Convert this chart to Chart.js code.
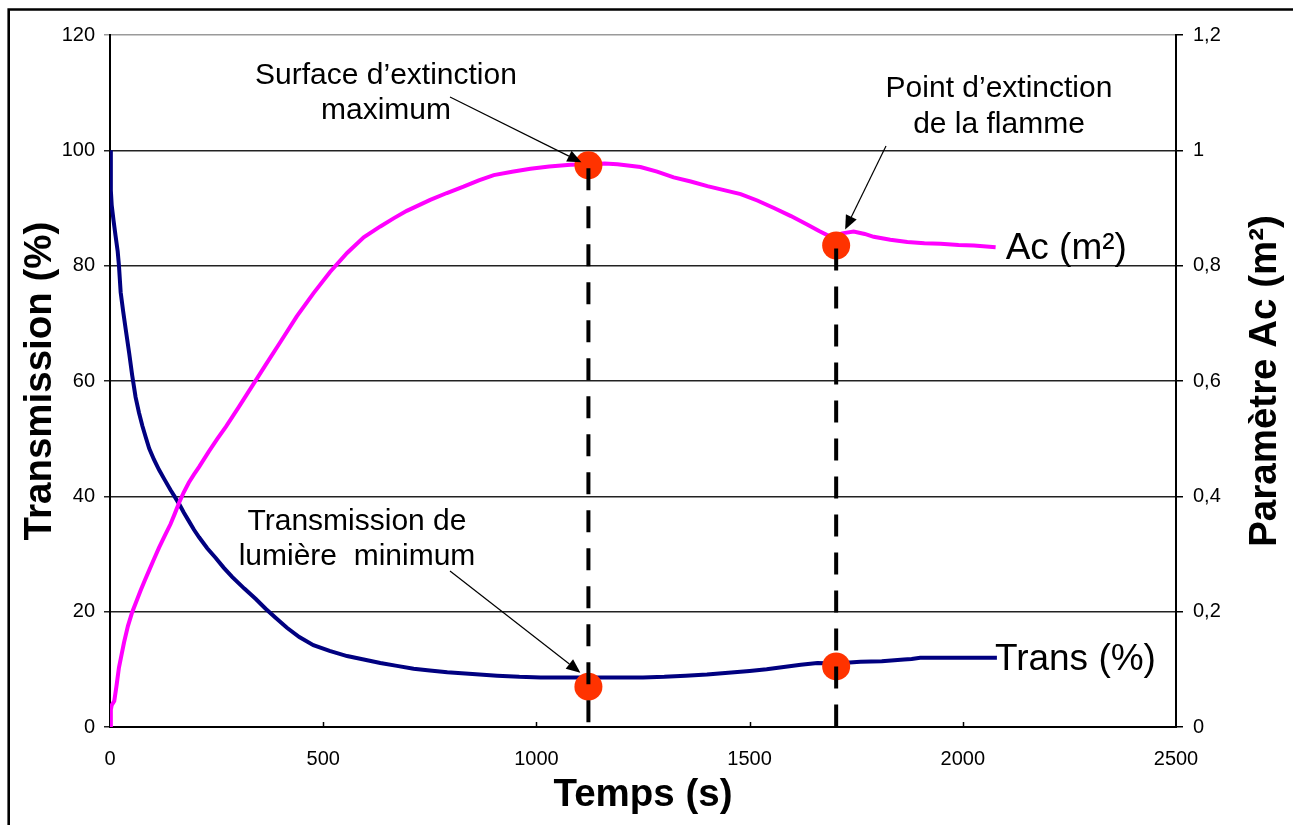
<!DOCTYPE html>
<html lang="fr">
<head>
<meta charset="UTF-8">
<title>Transmission et paramètre Ac</title>
<script src="https://cdn.jsdelivr.net/npm/chart.js"></script>
<style>
  body { margin: 0; background: #fff; }
  canvas { display: block; }
</style>
</head>
<body>
<canvas id="chart" width="1293" height="825"></canvas>
<script>
// transmission (%) vs temps (s)
const tTrans = [0, 2, 4, 8, 13, 18, 21, 25, 31, 37,
  45, 52, 60, 68, 76, 84, 92, 103, 115, 128,
  142, 152, 162, 173, 185, 197, 209, 228, 248, 267,
  287, 315, 342, 365, 389, 415, 444, 477, 515, 556,
  595, 634, 673, 712, 750, 791, 850, 908, 960, 1010,
  1060, 1103, 1150, 1200, 1250, 1300, 1350, 1400, 1450, 1500,
  1540, 1580, 1620, 1659, 1700, 1760, 1810, 1862, 1880, 1900,
  1950, 2000, 2040, 2080];
const trans = [100, 93, 90.5, 88, 85.2, 82.5, 80, 75.4, 72, 68.9,
  64.8, 61, 57.2, 54.5, 52.2, 50.2, 48.3, 46.4, 44.6, 42.9,
  41.1, 39.9, 38.7, 37.2, 35.7, 34.2, 32.9, 31.0, 29.3, 27.6,
  26, 24, 22.2, 20.5, 18.9, 17.2, 15.6, 14.2, 13.2, 12.3,
  11.7, 11.1, 10.6, 10.1, 9.8, 9.5, 9.2, 8.9, 8.7, 8.6,
  8.6, 8.6, 8.6, 8.6, 8.6, 8.7, 8.9, 9.1, 9.4, 9.7,
  10.0, 10.4, 10.8, 11.1, 11.0, 11.3, 11.4, 11.7, 11.8, 12.0,
  12.0, 12.0, 12.0, 12.0];

// parametre Ac (m²) vs temps (s)
const tAc = [0, 2, 4, 10, 15, 21, 27, 33, 42, 52,
  62, 72, 82, 92, 103, 115, 128, 142, 152, 162,
  173, 185, 197, 209, 232, 252, 272, 303, 334, 365,
  400, 438, 477, 516, 556, 595, 634, 665, 696, 751,
  790, 829, 865, 900, 943, 986, 1030, 1080, 1127, 1160,
  1190, 1244, 1283, 1322, 1362, 1401, 1440, 1479, 1518, 1557,
  1597, 1636, 1663, 1690, 1717, 1744, 1770, 1791, 1830, 1870,
  1910, 1948, 1990, 2026, 2077];
const ac = [0, 0.03, 0.038, 0.045, 0.07, 0.103, 0.125, 0.147, 0.175, 0.199,
  0.218, 0.237, 0.255, 0.272, 0.291, 0.311, 0.331, 0.352, 0.37, 0.389,
  0.407, 0.424, 0.438, 0.451, 0.478, 0.50, 0.521, 0.556, 0.592, 0.628,
  0.668, 0.712, 0.752, 0.789, 0.822, 0.849, 0.868, 0.882, 0.895, 0.914,
  0.926, 0.937, 0.948, 0.957, 0.963, 0.968, 0.972, 0.975, 0.976, 0.977,
  0.976, 0.971, 0.963, 0.953, 0.946, 0.938, 0.931, 0.924, 0.913, 0.90,
  0.886, 0.871, 0.86, 0.85, 0.856, 0.859, 0.855, 0.85, 0.845, 0.841,
  0.839, 0.838, 0.836, 0.835, 0.832];

// points remarquables
const tMarks = [1122, 1703];
const transMarks = [7.0, 10.5];
const acMarks = [0.974, 0.835];

const FONT = "'Liberation Sans', Arial, sans-serif";
const toXY = (xs, ys) => xs.map((x, i) => ({ x: x, y: ys[i] }));

// texte, flèches, pointillés, cadre
const annotations = {
  id: 'annotations',
  afterDatasetsDraw(chart) {
    const ctx = chart.ctx;
    const x = chart.scales.x, y = chart.scales.y, y1 = chart.scales.y1;
    const area = chart.chartArea;

    // petites graduations de l'axe des x (vers l'intérieur)
    ctx.save();
    ctx.strokeStyle = '#000';
    ctx.lineWidth = 1.5;
    [500, 1000, 1500, 2000].forEach(v => {
      const px = Math.round(x.getPixelForValue(v)) + 0.5;
      ctx.beginPath();
      ctx.moveTo(px, area.bottom);
      ctx.lineTo(px, area.bottom - 5);
      ctx.stroke();
    });
    ctx.restore();

    // pointillés verticaux
    ctx.save();
    ctx.strokeStyle = '#000';
    ctx.lineWidth = 4;
    ctx.setLineDash([22, 16]);
    tMarks.forEach((t, i) => {
      const px = x.getPixelForValue(t);
      ctx.beginPath();
      ctx.moveTo(px, y1.getPixelForValue(acMarks[i]) + 3);
      ctx.lineTo(px, area.bottom + 10);
      ctx.stroke();
    });
    ctx.restore();

    // flèches
    const arrow = (x0, y0, x1, y1p) => {
      const a = Math.atan2(y1p - y0, x1 - x0);
      const len = 14, w = 6;
      ctx.beginPath();
      ctx.moveTo(x0, y0);
      ctx.lineTo(x1 - Math.cos(a) * len, y1p - Math.sin(a) * len);
      ctx.stroke();
      ctx.beginPath();
      ctx.moveTo(x1, y1p);
      ctx.lineTo(x1 - Math.cos(a) * len - Math.sin(a) * w, y1p - Math.sin(a) * len + Math.cos(a) * w);
      ctx.lineTo(x1 - Math.cos(a) * len + Math.sin(a) * w, y1p - Math.sin(a) * len - Math.cos(a) * w);
      ctx.closePath();
      ctx.fill();
    };
    ctx.save();
    ctx.strokeStyle = '#000';
    ctx.fillStyle = '#000';
    ctx.lineWidth = 1.2;
    const m0x = x.getPixelForValue(tMarks[0]), m1x = x.getPixelForValue(tMarks[1]);
    arrow(450, 97, m0x - 7, y1.getPixelForValue(acMarks[0]) - 3);
    arrow(886, 146, m1x + 9, y1.getPixelForValue(acMarks[1]) - 16);
    arrow(450, 571, m0x - 8, y.getPixelForValue(transMarks[0]) - 14);
    ctx.restore();

    // textes
    ctx.save();
    ctx.fillStyle = '#000';
    ctx.textBaseline = 'middle';
    ctx.textAlign = 'center';
    ctx.font = '30px ' + FONT;
    ctx.fillText('Surface d’extinction', 386, 76);
    ctx.fillText('maximum', 386, 111);
    ctx.fillText('Point d’extinction', 999, 89);
    ctx.fillText('de la flamme', 999, 125);
    ctx.fillText('Transmission de', 357, 522);
    ctx.fillText('lumière  minimum', 357, 557);

    ctx.textAlign = 'left';
    ctx.font = '37px ' + FONT;
    ctx.fillText('Ac (m²)', x.getPixelForValue(tAc[tAc.length - 1]) + 10,
      y1.getPixelForValue(ac[ac.length - 1]) + 2);
    ctx.fillText('Trans (%)', x.getPixelForValue(tTrans[tTrans.length - 1]) - 2,
      y.getPixelForValue(trans[trans.length - 1]) + 2);

    // titre de l'axe de droite
    ctx.translate(1265, (area.top + area.bottom) / 2);
    ctx.rotate(-Math.PI / 2);
    ctx.textAlign = 'center';
    ctx.font = 'bold 38.5px ' + FONT;
    ctx.fillText('Paramètre Ac (m²)', 0, 0);
    ctx.restore();

    // cadre
    ctx.save();
    ctx.strokeStyle = '#000';
    ctx.lineWidth = 2.6;
    ctx.beginPath();
    ctx.moveTo(8.7, chart.height);
    ctx.lineTo(8.7, 9.5);
    ctx.lineTo(chart.width, 9.5);
    ctx.stroke();
    ctx.restore();
  }
};

new Chart(document.getElementById('chart'), {
  type: 'line',
  data: {
    datasets: [
      {
        data: toXY(tMarks, transMarks),
        yAxisID: 'y',
        showLine: false,
        pointRadius: 14,
        pointBorderWidth: 0,
        pointBackgroundColor: '#ff3300'
      },
      {
        data: toXY(tMarks, acMarks),
        yAxisID: 'y1',
        showLine: false,
        pointRadius: 14,
        pointBorderWidth: 0,
        pointBackgroundColor: '#ff3300'
      },
      {
        label: 'Ac (m²)',
        data: toXY(tAc, ac),
        yAxisID: 'y1',
        borderColor: '#ff00ff',
        borderWidth: 4,
        pointRadius: 0,
        tension: 0
      },
      {
        label: 'Trans (%)',
        data: toXY(tTrans, trans),
        yAxisID: 'y',
        borderColor: '#000080',
        borderWidth: 4,
        pointRadius: 0,
        tension: 0
      }
    ]
  },
  options: {
    responsive: false,
    animation: false,
    layout: { padding: { left: 0, right: 0, top: 35, bottom: 0 } },
    plugins: {
      legend: { display: false },
      tooltip: { enabled: false }
    },
    scales: {
      x: {
        type: 'linear',
        min: 0,
        max: 2500,
        afterFit: s => { s.height = 98; },
        ticks: {
          stepSize: 500,
          color: '#000',
          padding: 20,
          font: { family: FONT, size: 20 },
          callback: v => String(v)
        },
        grid: { drawOnChartArea: false, drawTicks: false },
        border: { color: '#000', width: 2 },
        title: {
          display: true,
          text: 'Temps (s)',
          color: '#000',
          font: { family: FONT, size: 38.5, weight: 'bold' },
          padding: { top: 0, bottom: 7 }
        }
      },
      y: {
        position: 'left',
        min: 0,
        max: 120,
        afterFit: s => { s.width = 110; },
        ticks: { stepSize: 20, color: '#000', padding: 9, font: { family: FONT, size: 20 } },
        grid: {
          color: c => (c.tick && c.tick.value === 120 ? '#9a9a9a' : '#222'),
          lineWidth: 1.5,
          tickLength: 6
        },
        border: { color: '#000', width: 2 },
        title: {
          display: true,
          text: 'Transmission (%)',
          color: '#000',
          font: { family: FONT, size: 38.5, weight: 'bold' },
          padding: { top: 17, bottom: 0 }
        }
      },
      y1: {
        position: 'right',
        min: 0,
        max: 1.2,
        afterFit: s => { s.width = 117; },
        ticks: {
          stepSize: 0.2,
          color: '#000',
          padding: 10,
          font: { family: FONT, size: 20 },
          callback: v => String(Number(v.toFixed(1))).replace('.', ',')
        },
        grid: { drawOnChartArea: false, color: '#000', lineWidth: 1.5, tickLength: 7 },
        border: { color: '#000', width: 2 }
      }
    }
  },
  plugins: [annotations]
});
</script>
</body>
</html>
